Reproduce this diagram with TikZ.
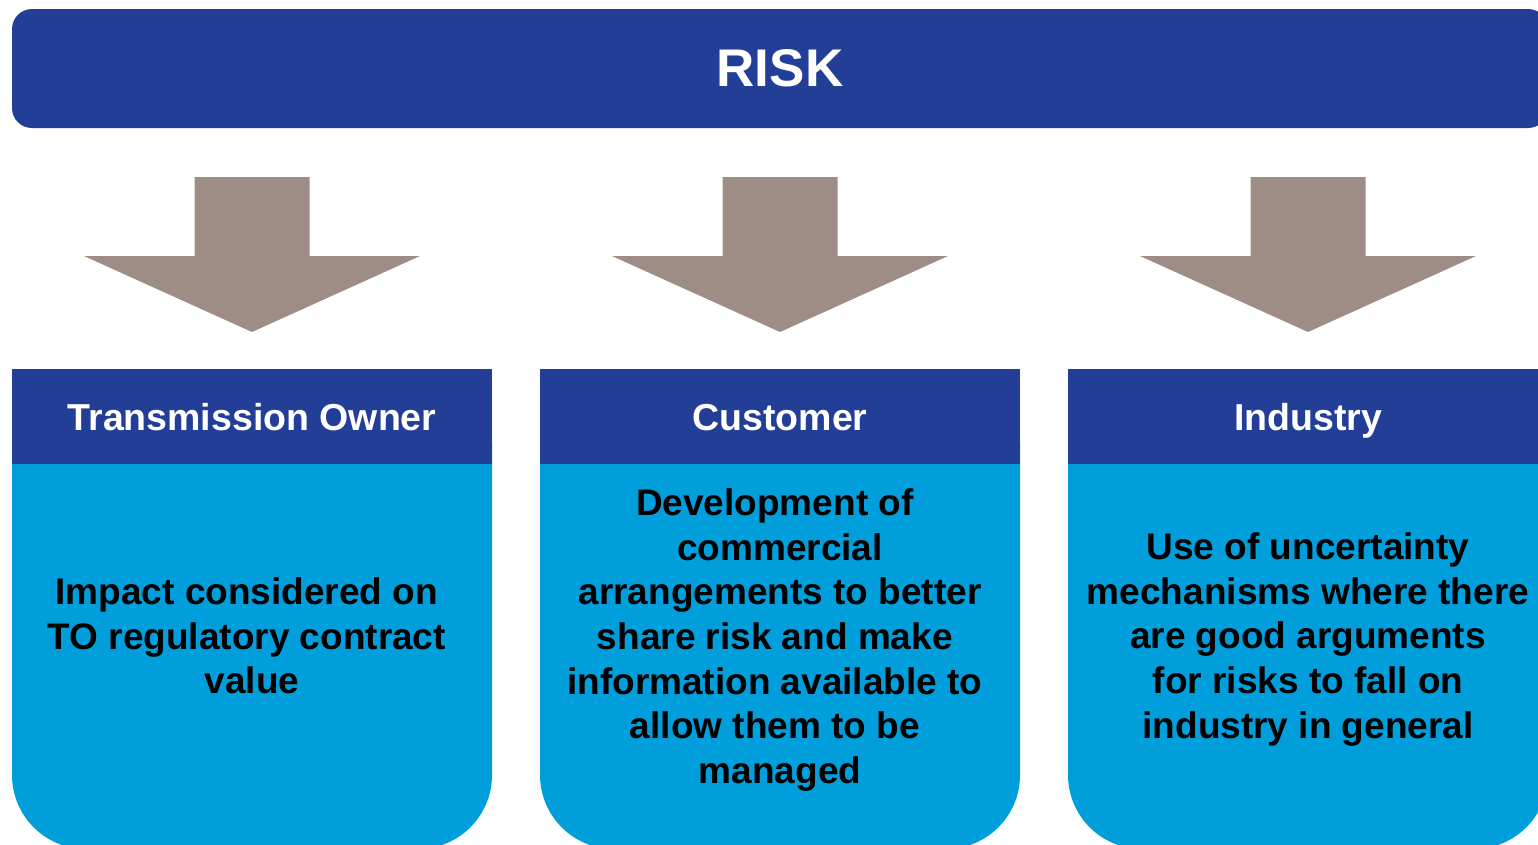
\documentclass[tikz,border=0pt]{standalone}
\usepackage{fontspec}
\setmainfont{Liberation Sans}
\definecolor{riskblue}{RGB}{35,62,150}
\definecolor{boxblue}{RGB}{0,158,219}
\definecolor{arrowgray}{RGB}{158,141,132}
\begin{document}
\begin{tikzpicture}[x=1pt, y=-1pt,
  every node/.style = {inner sep=0pt, outer sep=0pt, align=center},
  banner/.style = {fill=riskblue, rounded corners=20pt,
    minimum width=1536pt, minimum height=119pt,
    text=white, font=\fontsize{53}{62}\selectfont\bfseries},
  colhead/.style = {fill=riskblue, minimum width=480pt, minimum height=95pt,
    text height=32pt, text depth=4pt,
    text=white, font=\fontsize{37.5}{44.7}\selectfont\bfseries},
  colbody/.style = {fill=boxblue, rounded corners=74pt,
    minimum width=480pt, minimum height=480pt},
  bodytext/.style = {text=black, font=\fontsize{37}{44.7}\selectfont\bfseries},
  downarrow/.style = {fill=arrowgray}]
  \useasboundingbox (0,0) rectangle (1538,844);
  \clip (0,0) rectangle (1538,844);
  % top banner
  \node[banner] (risk) at (780,68.5) {RISK};
  % block arrows
  \foreach \cx in {252,780,1308}
    \fill[downarrow] (\cx-57.5,177) -- (\cx+57.5,177) -- (\cx+57.5,256)
      -- (\cx+168,256) -- (\cx,332) -- (\cx-168,256) -- (\cx-57.5,256) -- cycle;
  % column bodies (top corners hidden by the heads)
  \node[colbody] (owner-body) at (252,609) {};
  \node[colbody] (customer-body) at (780,609) {};
  \node[colbody] (industry-body) at (1308,609) {};
  % column heads
  \node[colhead] (owner-head) at (252,416.5) {Transmission Owner};
  \node[colhead] (customer-head) at (780,416.5) {Customer};
  \node[colhead] (industry-head) at (1308,416.5) {Industry};
  % column texts
  \node[bodytext] (owner-text) at (252,636)
    {Impact considered on\kern.28em\\ TO regulatory contract\kern.28em\\ value};
  \node[bodytext] (customer-text) at (780,640)
    {Development of\kern.28em\\ commercial\\ arrangements to better\\
     share risk and make\kern.28em\\ information available to\kern.28em\\
     allow them to be\kern.28em\\ managed};
  \node[bodytext] (industry-text) at (1308,639.5)
    {Use of uncertainty\\ mechanisms where there\\ are good arguments\\
     for risks to fall on\\ industry in general};
\end{tikzpicture}
\end{document}
